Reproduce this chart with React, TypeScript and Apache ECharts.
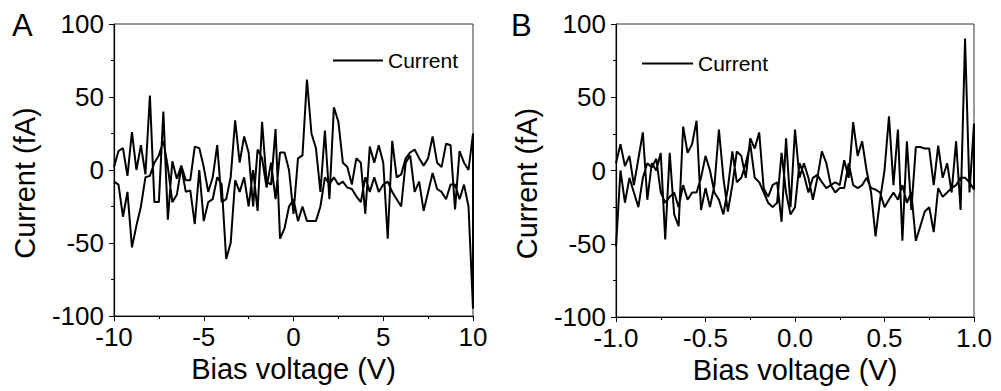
import React, { useEffect, useRef } from "react";
import * as echarts from "echarts";

// ---- Panel A: bias sweep -10 V .. 10 V (step 0.25 V) ----
const stepA = 0.25;
const startA = -10;
// forward sweep, values at ascending voltage (fA)
const forwardA = [
  2, 13, 15, -4, 26, 0, 17, -3, 51, -22, -22, 40, -34, 6, -6, 3, -7, -7, 16, 15,
  2, -15, -5, 17, -22, -20, -5, 34, 5, 23, 12, -25, 14, 8, -12, 5, -20, 12, 12, 0,
  -30, 8, 10, 62, 25, 15, -15, 27, -20, 43, 33, 5, 2, -10, 8, 5, -30, 16, 5, 17,
  5, -47, 20, -5, -3, 8, 12, 14, 8, 3, 8, 23, 5, 2, 18, 17, -27, 13, 5, 0, 25,
];
// backward sweep, values listed at ascending voltage (fA)
const backwardA = [
  -8, -10, -32, -15, -53, -38, -25, -5, -4, 5, 10, 20, 2, -22, -17, 2, -15, -14, -37, 0,
  -35, -22, -20, -5, -10, -61, -50, -7, -15, -5, -25, 0, -28, 33, -8, -10, 28, -47, -40, -25,
  -20, -35, -25, -35, -35, -35, -25, -5, -10, -5, -10, -8, -12, -13, -18, -22, -5, -15, -5, -15,
  -10, -8, -15, -20, -25, 5, 10, -15, -8, -28, -15, -2, -13, -15, -20, -10, -10, -20, -10, -25, -95,
];

// ---- Panel B: bias sweep -1 V .. 1 V (step 0.025 V) ----
const stepB = 0.025;
const startB = -1;
const forwardB = [
  5, 18, 3, 10, -10, 8, 26, -20, 5, 0, 12, -47, 12, -30, -38, 30, 12, 18, 34, -27,
  -12, -25, -10, 28, -5, -28, -10, 13, 10, -5, 22, 15, 26, -12, -18, -10, -8, -35, 22, -25,
  28, -5, 5, -5, -20, -5, 13, 5, -10, -8, -10, 7, -5, 33, 10, 20, 0, -15, -45, -20,
  0, 37, -10, 28, -48, 20, -27, 16, 16, 15, 15, -10, 17, -5, 5, -15, 20, -27, 90, -15, 32,
];
const backwardB = [
  -52, 0, -22, -5, -15, -25, -5, 5, 2, 8, -15, -22, -18, -15, -25, -10, -20, -15, -15, -5,
  10, 0, -15, -20, -30, -12, 13, -8, -5, 5, 18, -5, -8, -15, -22, -25, -22, 12, -15, -30,
  -25, 5, -3, -15, -5, -3, -8, -12, -10, -15, -12, -12, 5, -10, -12, -10, -5, -12, -13, -15,
  -25, -20, -15, -20, -10, -22, -15, -48, -38, -28, -25, -42, -12, -18, -15, -12, -10, -5, -5, -8, -13,
];

const yTickLabels = ["-100", "-50", "0", "50", "100"];
const xTickLabelsA = ["-10", "-5", "0", "5", "10"];
const xTickLabelsB = ["-1.0", "-0.5", "0.0", "0.5", "1.0"];
const seriesName = "Current";
const panelLabels = ["A", "B"];

const FONT = "'Liberation Sans', Arial, Helvetica, sans-serif";

function buildLoop(start: number, step: number, fwd: number[], bwd: number[]) {
  const pts: [number, number][] = [];
  fwd.forEach((v, i) => pts.push([+(start + i * step).toFixed(4), v]));
  for (let i = bwd.length - 1; i >= 0; i--) {
    pts.push([+(start + i * step).toFixed(4), bwd[i]]);
  }
  return pts;
}

function xAxisCfg(grid: number, min: number, max: number, interval: number, labels: string[]) {
  return {
    gridIndex: grid,
    type: "value",
    min,
    max,
    interval,
    name: "Bias voltage (V)",
    nameLocation: "middle",
    nameGap: 34,
    nameTextStyle: { fontSize: 29, color: "#000", fontFamily: FONT },
    axisLine: { onZero: false, lineStyle: { color: "#000", width: 1.2 } },
    axisTick: { inside: false, length: 5, lineStyle: { color: "#000", width: 1 } },
    minorTick: { show: true, splitNumber: 2, length: 3, lineStyle: { color: "#000", width: 1 } },
    splitLine: { show: false },
    minorSplitLine: { show: false },
    axisLabel: {
      fontSize: 26,
      color: "#000",
      fontFamily: FONT,
      margin: 8,
      formatter: (v: number) => labels[Math.round((v - min) / interval)] ?? "",
    },
  };
}

function yAxisCfg(grid: number) {
  return {
    gridIndex: grid,
    type: "value",
    min: -100,
    max: 100,
    interval: 50,
    name: "Current (fA)",
    nameLocation: "middle",
    nameGap: 75,
    nameTextStyle: { fontSize: 29, color: "#000", fontFamily: FONT, padding: [0, 26, 0, 0] },
    axisLine: { onZero: false, lineStyle: { color: "#000", width: 1.2 } },
    axisTick: { inside: false, length: 5, lineStyle: { color: "#000", width: 1 } },
    minorTick: { show: true, splitNumber: 2, length: 3, lineStyle: { color: "#000", width: 1 } },
    splitLine: { show: false },
    minorSplitLine: { show: false },
    axisLabel: {
      fontSize: 26,
      color: "#000",
      fontFamily: FONT,
      margin: 10,
      formatter: (v: number) => yTickLabels[Math.round((v + 100) / 50)] ?? "",
    },
  };
}

export default function App() {
  const ref = useRef<HTMLDivElement>(null);
  useEffect(() => {
    if (!ref.current) return;
    const chart = echarts.init(ref.current, undefined, { renderer: "svg" });
    const lineStyle = { color: "#000", width: 2 };
    const legendBase = {
      itemHeight: 2,
      icon: "rect",
      data: [seriesName],
      textStyle: { fontSize: 21, color: "#000", fontFamily: FONT },
      itemStyle: { color: "#000" },
      selectedMode: false,
    };
    chart.setOption({
      animation: false,
      backgroundColor: "#fff",
      grid: [
        { left: 114, top: 24, width: 359, height: 292, show: true, borderColor: "#333", borderWidth: 1, backgroundColor: "transparent" },
        { left: 616, top: 24, width: 358, height: 293, show: true, borderColor: "#333", borderWidth: 1, backgroundColor: "transparent" },
      ],
      xAxis: [xAxisCfg(0, -10, 10, 5, xTickLabelsA), xAxisCfg(1, -1, 1, 0.5, xTickLabelsB)],
      yAxis: [yAxisCfg(0), yAxisCfg(1)],
      legend: [
        { ...legendBase, left: 328, top: 45, itemWidth: 50 },
        { ...legendBase, left: 637, top: 48, itemWidth: 51 },
      ],
      graphic: [
        { type: "text", left: 12, top: 10, style: { text: panelLabels[0], fontSize: 31, fill: "#000", fontFamily: FONT } },
        { type: "text", left: 511, top: 10, style: { text: panelLabels[1], fontSize: 31, fill: "#000", fontFamily: FONT } },
      ],
      series: [
        {
          name: seriesName,
          type: "line",
          xAxisIndex: 0,
          yAxisIndex: 0,
          symbol: "none",
          lineStyle,
          itemStyle: { color: "#000" },
          data: buildLoop(startA, stepA, forwardA, backwardA),
        },
        {
          name: seriesName,
          type: "line",
          xAxisIndex: 1,
          yAxisIndex: 1,
          symbol: "none",
          lineStyle,
          itemStyle: { color: "#000" },
          data: buildLoop(startB, stepB, forwardB, backwardB),
        },
      ],
    });
    return () => chart.dispose();
  }, []);
  return (
    <div
      ref={ref}
      style={{ position: "fixed", left: 0, top: 0, width: 1001, height: 391, background: "#fff" }}
    />
  );
}
